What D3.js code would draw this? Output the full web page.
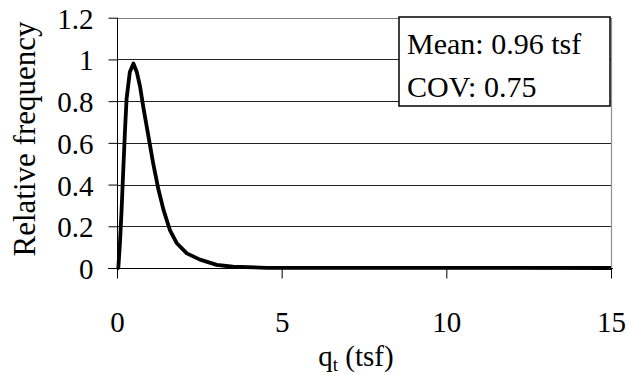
<!DOCTYPE html>
<html>
<head>
<meta charset="utf-8">
<script src="https://cdn.jsdelivr.net/npm/d3@7"></script>
<style>
@font-face { font-family: "ChartSerif"; src: local("Liberation Serif"), local("LiberationSerif"), local("Times New Roman"); }
</style>
</head>
<body style="margin:0;background:#fff">
<svg id="chart" width="629" height="375" style="display:block"></svg>
<script>
// Data
const qtValues = [0, 0.04, 0.09, 0.14, 0.19, 0.24, 0.29, 0.39, 0.5, 0.6, 0.7, 0.8, 0.9, 1.0, 1.1, 1.26, 1.41, 1.61, 1.81, 2.12, 2.52, 3.03, 3.52, 4.55, 15];
const relFreq  = [0, 0, 0.12, 0.28, 0.47, 0.65, 0.81, 0.94, 0.98, 0.94, 0.87, 0.77, 0.68, 0.59, 0.50, 0.375, 0.28, 0.18, 0.12, 0.07, 0.04, 0.015, 0.006, 0.001, 0];
const xTicks = [0, 5, 10, 15];
const yTicks = [0, 0.2, 0.4, 0.6, 0.8, 1, 1.2];
const legendLines = ["Mean: 0.96 tsf", "COV: 0.75"];
const xTitle = "q";
const xTitleSub = "t";
const xTitleRest = " (tsf)";
const yTitle = "Relative frequency";

(function () {
const FONT = `'Liberation Serif', ChartSerif, 'Times New Roman'`;
const svg = d3.select("#chart");
const pLeft = 117, pRight = 611, pTop = 17.7, pBottom = 268;

const x = d3.scaleLinear().domain([0, 15]).range([pLeft, pRight]);
const y = d3.scaleLinear().domain([0, 1.2]).range([pBottom, pTop]);

function txt(sel, size) {
  return sel.style("font-family", FONT).style("font-size", size + "px").attr("fill", "#000");
}

// gridlines
svg.append("g").selectAll("line").data(yTicks.filter(d => d > 0)).join("line")
  .attr("x1", pLeft).attr("x2", pRight)
  .attr("y1", d => Math.round(y(d)) + 0.5).attr("y2", d => Math.round(y(d)) + 0.5)
  .attr("stroke", d => d === 1.2 ? "#808080" : "#222").attr("stroke-width", 1);

// right border
svg.append("line")
  .attr("x1", Math.round(pRight) + 0.5).attr("x2", Math.round(pRight) + 0.5)
  .attr("y1", pTop).attr("y2", pBottom)
  .attr("stroke", "#909090").attr("stroke-width", 1.2);

// y axis
const yAxis = d3.axisLeft(y).tickValues(yTicks).tickSize(9).tickPadding(15)
  .tickFormat(d => String(+d.toFixed(1)));
const gy = svg.append("g").attr("transform", `translate(${pLeft + 0.5},0)`).call(yAxis);
gy.attr("font-family", null).attr("font-size", null).style("font-family", FONT);
gy.select(".domain").attr("stroke", "#000").attr("d", `M0,${pTop}V${pBottom}`);
gy.selectAll(".tick line").attr("stroke", "#000");
txt(gy.selectAll(".tick text"), 29).attr("dy", "0.36em");

// x axis
const xAxis = d3.axisBottom(x).tickValues(xTicks).tickSize(10).tickPadding(33);
const gx = svg.append("g").attr("transform", `translate(0,${pBottom + 0.5})`).call(xAxis);
gx.attr("font-family", null).attr("font-size", null).style("font-family", FONT);
gx.select(".domain").attr("stroke", "#000").attr("d", `M${pLeft - 9},0H${pRight + 2}`);
gx.selectAll(".tick line").attr("stroke", "#000");
txt(gx.selectAll(".tick text"), 29);

// curve
const pts = qtValues.map((v, i) => [v, relFreq[i]]);
const line = d3.line().x(d => x(d[0])).y(d => y(d[1]));
svg.append("path").datum(pts)
  .attr("d", line)
  .attr("fill", "none").attr("stroke", "#000").attr("stroke-width", 3.8)
  .attr("stroke-linejoin", "round");

// legend box
svg.append("rect").attr("x", 399).attr("y", 17).attr("width", 211).attr("height", 89)
  .attr("fill", "#fff").attr("stroke", "#000").attr("stroke-width", 1.5);
txt(svg.append("g").selectAll("text").data(legendLines).join("text"), 30)
  .attr("x", 407).attr("y", (d, i) => 54 + i * 42.5).text(d => d);

// x title
const xt = txt(svg.append("text"), 29).attr("x", 356).attr("y", 366).attr("text-anchor", "middle");
xt.append("tspan").text(xTitle);
xt.append("tspan").style("font-size", "19px").attr("dy", 5).text(xTitleSub);
xt.append("tspan").attr("dy", -5).text(xTitleRest);

// y title
txt(svg.append("text"), 31).attr("transform", "translate(35,139) rotate(-90)")
  .attr("text-anchor", "middle").text(yTitle);
})();
</script>
</body>
</html>
